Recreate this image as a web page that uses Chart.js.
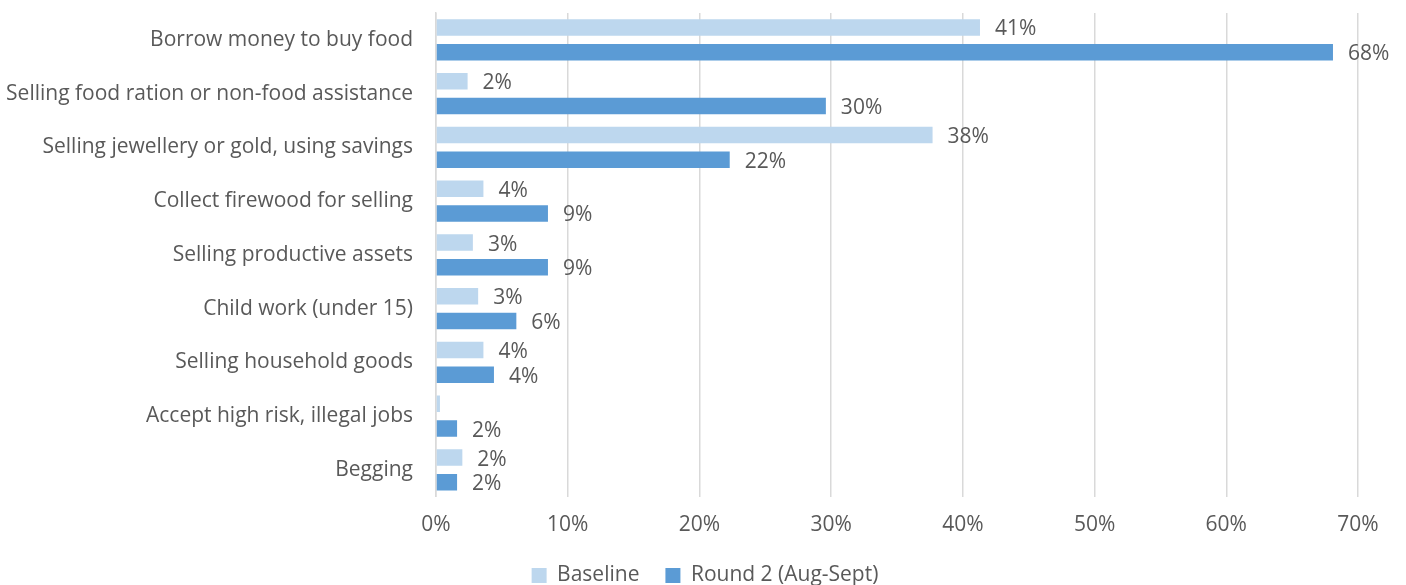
<!DOCTYPE html>
<html>
<head>
<meta charset="utf-8">
<script src="https://cdn.jsdelivr.net/npm/chart.js@4.4.1/dist/chart.umd.min.js"></script>
<style>
  html, body { margin: 0; padding: 0; background: #fff; }
  #wrap { width: 1406px; height: 585px; }
</style>
</head>
<body>
<div id="wrap"><canvas id="copingChart"></canvas></div>
<script>
const categories = [
    'Borrow money to buy food',
    'Selling food ration or non-food assistance',
    'Selling jewellery or gold, using savings',
    'Collect firewood for selling',
    'Selling productive assets',
    'Child work (under 15)',
    'Selling household goods',
    'Accept high risk, illegal jobs',
    'Begging'
];
const baseline = [41.3, 2.4, 37.7, 3.6, 2.8, 3.2, 3.6, 0.3, 2.0];
const round2 = [68.1, 29.6, 22.3, 8.5, 8.5, 6.1, 4.4, 1.6, 1.6];
const xTicks = [0, 10, 20, 30, 40, 50, 60, 70];

const txtColor = '#595959';
const fontFam = '"Open Sans", sans-serif';
const fontSize = 21;

// draws the % next to the end of each bar
const etiquettes = {
    id: 'etiquettes',
    afterDatasetsDraw(chart) {
        const ctx = chart.ctx;
        ctx.save();
        ctx.font = fontSize + 'px ' + fontFam;
        ctx.fillStyle = txtColor;
        ctx.textAlign = 'left';
        ctx.textBaseline = 'middle';
        chart.data.datasets.forEach((ds, i) => {
            const meta = chart.getDatasetMeta(i);
            meta.data.forEach((bar, j) => {
                const v = Math.round(ds.data[j]);
                if (v < 1) return;
                ctx.fillText(v + '%', bar.x + 15, bar.y + 2);
            });
        });
        ctx.restore();
    }
};

// nudge the legend a bit to the right, like the original
const decalLegende = {
    id: 'decalLegende',
    afterLayout(chart) {
        if (chart.legend) {
            chart.legend.left += 26;
            chart.legend.right += 26;
        }
    }
};

const ctx = document.getElementById('copingChart').getContext('2d');
const graph = new Chart(ctx, {
    type: 'bar',
    data: {
        labels: categories,
        datasets: [{
            label: 'Baseline',
            data: baseline,
            backgroundColor: '#BDD7EE',
            borderWidth: 0,
            categoryPercentage: 0.92,
            barPercentage: 0.67
        }, {
            label: 'Round 2 (Aug-Sept)',
            data: round2,
            backgroundColor: '#5B9BD5',
            borderWidth: 0,
            categoryPercentage: 0.92,
            barPercentage: 0.67
        }]
    },
    options: {
        indexAxis: 'y',
        responsive: true,
        maintainAspectRatio: false,
        animation: false,
        layout: { padding: { top: 13, right: 48, bottom: -11, left: 0 } },
        scales: {
            x: {
                min: 0,
                max: 70,
                afterBuildTicks: (axis) => { axis.ticks = xTicks.map(v => ({ value: v })); },
                afterFit: (axis) => { axis.height -= 15; },
                grid: { color: '#D9D9D9', lineWidth: 1.5, drawTicks: false },
                border: { display: false },
                ticks: {
                    padding: 16,
                    color: txtColor,
                    font: { family: fontFam, size: fontSize },
                    callback: (v) => v + '%'
                }
            },
            y: {
                afterFit: (axis) => {
                    axis.width = 436;
                    axis.paddingTop = 0;
                    axis.paddingBottom = 0;
                },
                grid: { display: false, drawTicks: false },
                border: { display: true, color: '#D9D9D9', width: 1.5 },
                ticks: {
                    padding: 23,
                    color: txtColor,
                    font: { family: fontFam, size: fontSize }
                }
            }
        },
        plugins: {
            legend: {
                position: 'bottom',
                labels: {
                    color: txtColor,
                    font: { family: fontFam, size: fontSize },
                    boxWidth: 15,
                    boxHeight: 15,
                    padding: 26
                }
            },
            tooltip: { enabled: false }
        }
    },
    plugins: [etiquettes, decalLegende]
});
</script>
</body>
</html>
